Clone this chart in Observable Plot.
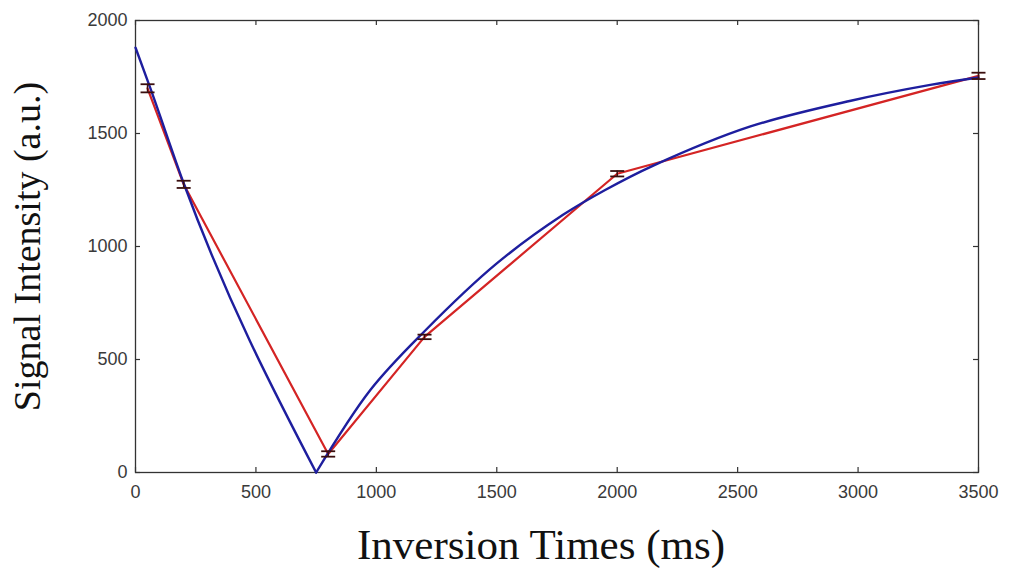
<!DOCTYPE html>
<html>
<head>
<meta charset="utf-8">
<script src="https://cdn.jsdelivr.net/npm/d3@7"></script>
<script src="https://cdn.jsdelivr.net/npm/@observablehq/plot@0.6"></script>
<style>
  html, body { margin: 0; padding: 0; background: #fff; }
</style>
</head>
<body>
<div id="chart"></div>
<script>
// Measured points (red line with error bars)
const measTime = [50, 200, 800, 1200, 2000, 3500];
const measSignal = [1700, 1275, 82, 600, 1322, 1755];
const measErr = [18, 16, 12, 10, 12, 14];

// Fitted curve (blue): falling and rising branches
const fitFallTime = [0, 60, 200, 750];
const fitFallSignal = [1880, 1705, 1280, 0];
const fitRiseTime = [750, 975, 1200, 1500, 1775, 1950, 2150, 2550, 2970, 3300, 3500];
const fitRiseSignal = [0, 365, 625, 925, 1140, 1250, 1358, 1530, 1645, 1715, 1748];

const xTicks = [0, 500, 1000, 1500, 2000, 2500, 3000, 3500];
const yTicks = [0, 500, 1000, 1500, 2000];

const xTitle = "Inversion Times (ms)";
const yTitle = "Signal Intensity (a.u.)";

const meas = measTime.map((t, i) => ({t, s: measSignal[i], e: measErr[i]}));
const fitFall = fitFallTime.map((t, i) => ({t, s: fitFallSignal[i]}));
const fitRise = fitRiseTime.map((t, i) => ({t, s: fitRiseSignal[i]}));

const W = 1011, H = 570;
const mL = 135, mR = 33, mT = 20, mB = 98;
const fw = W - mL - mR, fh = H - mT - mB;
const tickLen = 5;

const capSymbol = {
  draw(context, size) {
    const w = Math.sqrt(size / Math.PI);
    context.moveTo(-w, 0);
    context.lineTo(w, 0);
  }
};

const red = "#d42424";
const blue = "#1e1e9e";
const errColor = "#3a0e0e";
const fmt = d3.format("d");

const chart = Plot.plot({
  width: W,
  height: H,
  marginLeft: mL,
  marginRight: mR,
  marginTop: mT,
  marginBottom: mB,
  style: {fontFamily: "'Liberation Sans', Arial, sans-serif", fontSize: "18px", color: "#3a3a3a", background: "#fff"},
  x: {domain: [0, 3500], ticks: xTicks},
  y: {domain: [0, 2000], ticks: yTicks},
  marks: [
    Plot.axisX(xTicks, {tickSize: 0, tickPadding: 13, label: null, tickFormat: fmt, fill: "#3a3a3a"}),
    Plot.axisY(yTicks, {tickSize: 0, tickPadding: 8, label: null, tickFormat: fmt, fill: "#3a3a3a"}),
    // inward ticks on all four sides
    Plot.tickX(xTicks, {x: d => d, insetTop: fh - tickLen, stroke: "#333", strokeWidth: 1.2}),
    Plot.tickX(xTicks, {x: d => d, insetBottom: fh - tickLen, stroke: "#333", strokeWidth: 1.2}),
    Plot.tickY(yTicks, {y: d => d, insetRight: fw - tickLen, stroke: "#333", strokeWidth: 1.2}),
    Plot.tickY(yTicks, {y: d => d, insetLeft: fw - tickLen, stroke: "#333", strokeWidth: 1.2}),
    Plot.frame({stroke: "#333", strokeWidth: 1.3}),
    Plot.line(meas, {x: "t", y: "s", stroke: red, strokeWidth: 2.2}),
    Plot.line(fitFall, {x: "t", y: "s", stroke: blue, strokeWidth: 2.4, curve: "monotone-x"}),
    Plot.line(fitRise, {x: "t", y: "s", stroke: blue, strokeWidth: 2.4, curve: "catmull-rom"}),
    Plot.ruleX(meas, {x: "t", y1: d => d.s - d.e, y2: d => d.s + d.e, stroke: errColor, strokeWidth: 1.5}),
    Plot.dot(meas, {x: "t", y: d => d.s - d.e, symbol: capSymbol, r: 7, stroke: errColor, strokeWidth: 1.8}),
    Plot.dot(meas, {x: "t", y: d => d.s + d.e, symbol: capSymbol, r: 7, stroke: errColor, strokeWidth: 1.8}),
    Plot.text([xTitle], {frameAnchor: "bottom", text: d => d, dx: -16, dy: 73, lineAnchor: "middle", textAnchor: "middle",
      fontFamily: "'Liberation Serif', 'Times New Roman', serif", fontSize: 43, fill: "#111"}),
    Plot.text([yTitle], {frameAnchor: "left", text: d => d, dx: -108, rotate: -90, lineAnchor: "middle", textAnchor: "middle",
      fontFamily: "'Liberation Serif', 'Times New Roman', serif", fontSize: 38, fill: "#111"})
  ]
});

document.getElementById("chart").appendChild(chart);
</script>
</body>
</html>
